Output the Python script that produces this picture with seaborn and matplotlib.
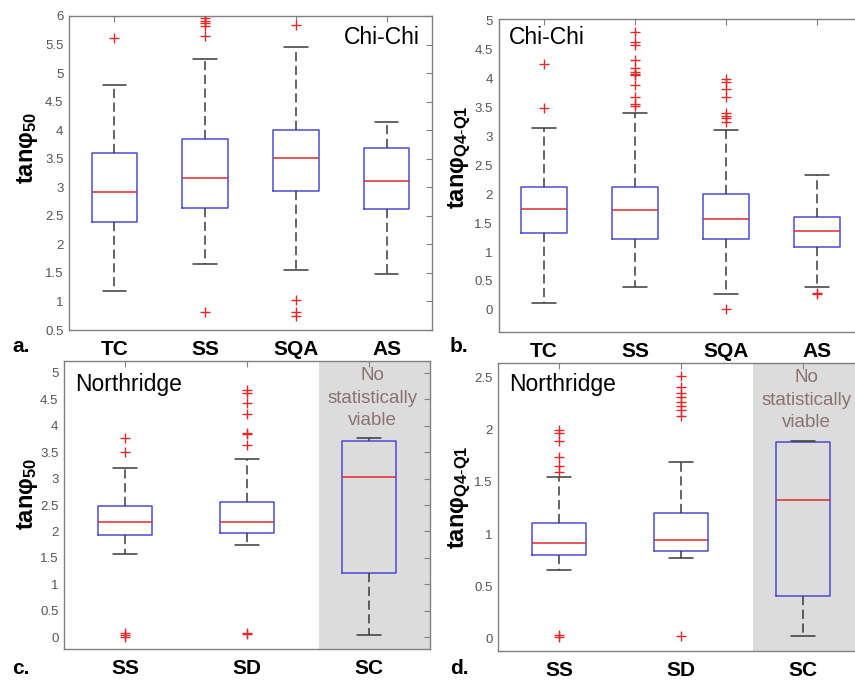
import numpy as np
import pandas as pd
import matplotlib
matplotlib.use("Agg")
import matplotlib.pyplot as plt
import seaborn as sns
from matplotlib.transforms import blended_transform_factory

# ---------------- data (box statistics) ----------------
# Panel a: Chi-Chi, tan(phi)_50
a_cats = ["TC", "SS", "SQA", "AS"]
a_wlo = [1.19, 1.65, 1.55, 1.48]
a_q1 = [2.39, 2.64, 2.93, 2.62]
a_med = [2.92, 3.16, 3.52, 3.11]
a_q3 = [3.60, 3.84, 4.00, 3.68]
a_whi = [4.80, 5.24, 5.46, 4.15]
a_out_TC = [5.62]
a_out_SS = [5.96, 5.91, 5.87, 5.82, 5.65, 0.81]
a_out_SQA = [5.85, 1.02, 0.82, 0.74]
a_out_AS = []

# Panel b: Chi-Chi, tan(phi)_Q4-Q1
b_cats = ["TC", "SS", "SQA", "AS"]
b_wlo = [0.12, 0.39, 0.28, 0.40]
b_q1 = [1.32, 1.22, 1.22, 1.09]
b_med = [1.75, 1.72, 1.57, 1.36]
b_q3 = [2.12, 2.13, 2.00, 1.60]
b_whi = [3.14, 3.39, 3.10, 2.33]
b_out_TC = [4.25, 3.48]
b_out_SS = [4.80, 4.63, 4.57, 4.32, 4.17, 4.11, 4.07, 4.05, 3.88, 3.68, 3.55, 3.52]
b_out_SQA = [3.99, 3.94, 3.81, 3.67, 3.40, 3.35, 3.31, 3.24, 0.02]
b_out_AS = [0.29, 0.27]

# Panel c: Northridge, tan(phi)_50
c_cats = ["SS", "SD", "SC"]
c_wlo = [1.58, 1.74, 0.05]
c_q1 = [1.94, 1.97, 1.21]
c_med = [2.18, 2.18, 3.02]
c_q3 = [2.48, 2.55, 3.71]
c_whi = [3.20, 3.37, 3.76]
c_out_SS = [3.76, 3.51, 0.08, 0.04, 0.01]
c_out_SD = [4.67, 4.61, 4.42, 4.21, 3.86, 3.84, 3.63, 0.09, 0.06]
c_out_SC = []

# Panel d: Northridge, tan(phi)_Q4-Q1
d_cats = ["SS", "SD", "SC"]
d_wlo = [0.66, 0.77, 0.02]
d_q1 = [0.80, 0.84, 0.41]
d_med = [0.915, 0.94, 1.33]
d_q3 = [1.11, 1.20, 1.88]
d_whi = [1.55, 1.69, 1.89]
d_out_SS = [2.00, 1.97, 1.89, 1.74, 1.65, 1.60, 0.03, 0.01]
d_out_SD = [2.52, 2.41, 2.35, 2.31, 2.27, 2.23, 2.19, 2.13, 0.02]
d_out_SC = []

# ---------------- style ----------------
sns.set_theme(style="white")
plt.rcParams["font.family"] = ["Liberation Sans", "DejaVu Sans"]
plt.rcParams["mathtext.fontset"] = "custom"
plt.rcParams["mathtext.rm"] = "Liberation Sans"
plt.rcParams["mathtext.bf"] = "Liberation Sans:bold"
plt.rcParams["mathtext.it"] = "Liberation Sans:italic"

BLUE = "#4b4bd6"
RED = "#e02a2a"
DARK = "#3a3a3a"
SPINE = "#808080"
TICKLBL = "#555555"
NOTE = "#8a7272"
SHADE = "#dcdcdc"

W, H = 855, 680
fig = plt.figure(figsize=(W / 100, H / 100), dpi=100)


def rect(l, r, t, b):
    return [l / W, 1 - b / H, (r - l) / W, (b - t) / H]


def draw(ax, cats, wlo, q1, med, q3, whi, outs, width, capw):
    rows = []
    for i, c in enumerate(cats):
        for v in (wlo[i], q1[i], med[i], q3[i], whi[i]):
            rows.append((c, v))
    df = pd.DataFrame(rows, columns=["cat", "val"])
    sns.boxplot(data=df, x="cat", y="val", order=cats, ax=ax, whis=(0, 100),
                width=width, fill=False, showfliers=False, linewidth=1.1,
                boxprops=dict(color=BLUE),
                medianprops=dict(color=RED, linewidth=1.1),
                whiskerprops=dict(color=DARK, linestyle=(0, (6, 3)), linewidth=1.1),
                capprops=dict(color=DARK, linewidth=1.1),
                capwidths=capw)
    orows = [(c, v) for c, vals in zip(cats, outs) for v in vals]
    odf = pd.DataFrame(orows, columns=["cat", "val"])
    sns.stripplot(data=odf, x="cat", y="val", order=cats, ax=ax, jitter=False,
                  marker="+", color=RED, size=6.5, linewidth=1.0, zorder=5)
    ax.set_xlim(-0.5, len(cats) - 0.5)


def style(ax, cats, ylim, yticks, ylabel, lab_xy):
    ax.set_ylim(*ylim)
    ax.set_xticks(range(len(cats)), cats, fontsize=15, fontweight="bold", color="black")
    ax.set_yticks(yticks, [f"{v:g}" for v in yticks], fontsize=9.5, color=TICKLBL)
    ax.tick_params(axis="both", direction="in", top=True, right=True, length=4,
                   width=0.8, color=SPINE)
    ax.tick_params(axis="x", pad=7)
    ax.tick_params(axis="y", pad=4)
    for s in ax.spines.values():
        s.set_visible(True)
        s.set_color(SPINE)
        s.set_linewidth(1.0)
    ax.set_xlabel("")
    ax.set_ylabel(ylabel, fontsize=17, fontweight="bold", va="center", color="black")
    ax.yaxis.set_label_coords(*lab_xy)


lab50 = r"tanφ$_{\mathbf{50}}$"
labq = r"tanφ$_{\mathbf{Q4}\text{-}\mathbf{Q1}}$"

# Panel a
axa = fig.add_axes(rect(69, 432, 16, 330))
draw(axa, a_cats, a_wlo, a_q1, a_med, a_q3, a_whi,
     [a_out_TC, a_out_SS, a_out_SQA, a_out_AS], 0.5, 0.26)
style(axa, a_cats, (0.5, 6.0), np.arange(0.5, 6.01, 0.5), lab50, (-0.115, 0.58))
axa.text(0.967, 0.933, "Chi-Chi", transform=axa.transAxes, ha="right", va="center",
         fontsize=16.5, color="black")

# Panel b
axb = fig.add_axes(rect(498.5, 862.5, 19, 332))
draw(axb, b_cats, b_wlo, b_q1, b_med, b_q3, b_whi,
     [b_out_TC, b_out_SS, b_out_SQA, b_out_AS], 0.5, 0.26)
style(axb, b_cats, (-0.38, 5.02), np.arange(0, 5.01, 0.5), labq, (-0.106, 0.56))
axb.text(0.029, 0.942, "Chi-Chi", transform=axb.transAxes, ha="left", va="center",
         fontsize=16.5, color="black")

# Panel c
axc = fig.add_axes(rect(64, 430, 361, 649))
axc.axvspan(1.59, 2.5, color=SHADE, zorder=0, lw=0)
draw(axc, c_cats, c_wlo, c_q1, c_med, c_q3, c_whi,
     [c_out_SS, c_out_SD, c_out_SC], 0.45, 0.2)
style(axc, c_cats, (-0.22, 5.22), np.arange(0, 5.01, 0.5), lab50, (-0.101, 0.54))
axc.text(0.030, 0.92, "Northridge", transform=axc.transAxes, ha="left", va="center",
         fontsize=16.5, color="black")
axc.text(2.03, 0.978, "No\nstatistically\nviable",
         transform=blended_transform_factory(axc.transData, axc.transAxes),
         ha="center", va="top", fontsize=13.5, color=NOTE, linespacing=1.4)

# Panel d
axd = fig.add_axes(rect(498, 864, 363, 651))
axd.axvspan(1.59, 2.5, color=SHADE, zorder=0, lw=0)
draw(axd, d_cats, d_wlo, d_q1, d_med, d_q3, d_whi,
     [d_out_SS, d_out_SD, d_out_SC], 0.45, 0.2)
style(axd, d_cats, (-0.12, 2.64), np.arange(0, 2.51, 0.5), labq, (-0.104, 0.535))
axd.text(0.030, 0.927, "Northridge", transform=axd.transAxes, ha="left", va="center",
         fontsize=16.5, color="black")
axd.text(2.03, 0.978, "No\nstatistically\nviable",
         transform=blended_transform_factory(axd.transData, axd.transAxes),
         ha="center", va="top", fontsize=13.5, color=NOTE, linespacing=1.4)

# Panel letters
for lbl, x, y in [("a.", 12, 347), ("b.", 450, 347), ("c.", 12, 668), ("d.", 450, 668)]:
    fig.text(x / W, 1 - y / H, lbl, ha="left", va="center", fontsize=15,
             fontweight="bold", color="black")

fig.savefig("out.png", dpi=100)
